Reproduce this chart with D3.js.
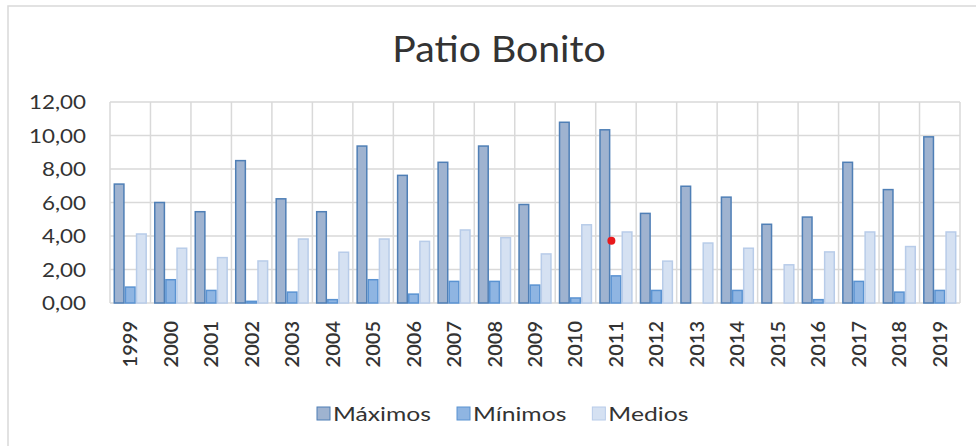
<!DOCTYPE html>
<html><head><meta charset="utf-8">
<script src="https://cdn.jsdelivr.net/npm/d3@7"></script>
<style>body{margin:0;background:#fff}svg{display:block}</style>
</head><body>
<svg id="c" width="976" height="446"></svg>
<script>
const years = ["1999","2000","2001","2002","2003","2004","2005","2006","2007","2008","2009","2010","2011","2012","2013","2014","2015","2016","2017","2018","2019"];
const seriesNames = ["Máximos","Mínimos","Medios"];
const maximos = [7.10,6.00,5.45,8.50,6.22,5.45,9.37,7.62,8.40,9.37,5.88,10.79,10.34,5.35,6.97,6.32,4.70,5.13,8.40,6.77,9.92];
const minimos = [0.95,1.39,0.75,0.10,0.65,0.20,1.39,0.53,1.29,1.29,1.07,0.30,1.62,0.75,0.00,0.75,0.00,0.20,1.29,0.65,0.75];
const medios  = [4.12,3.27,2.71,2.51,3.82,3.03,3.82,3.68,4.36,3.90,2.93,4.67,4.24,2.50,3.58,3.27,2.28,3.05,4.24,3.37,4.24];
const yTicks = [0,2,4,6,8,10,12];
const marker = [{year:"2011", value:3.72}];
const title = "Patio Bonito";

const W=976,H=446, m={l:110,r:16,t:102,b:143};
const svg=d3.select("#c");
const font="Lato, 'Open Sans', sans-serif";
const fills=["#9fb3d0","#8fb5e2","#d5e1f2"], strokes=["#4f7fb6","#5a93d2","#b8cce9"];

svg.append("path").attr("d",`M8,${H} L8,6 L${W},6`).attr("fill","none").attr("stroke","#d9d9d9").attr("stroke-width",1.5);

const x0=d3.scaleBand().domain(years).range([m.l,W-m.r]).paddingInner(0.175).paddingOuter(0.0875);
const x1=d3.scaleBand().domain(seriesNames).range([0,x0.bandwidth()]);
const y=d3.scaleLinear().domain([0,12]).range([H-m.b,m.t]);
const step=x0.step();

const g=svg.append("g");
g.selectAll("line.h").data(yTicks).join("line").attr("x1",m.l).attr("x2",W-m.r).attr("y1",d=>y(d)).attr("y2",d=>y(d)).attr("stroke","#d9d9d9").attr("stroke-width",1.5);
const bounds=d3.range(years.length+1);
g.selectAll("line.v").data(bounds).join("line").attr("x1",i=>m.l+i*step).attr("x2",i=>m.l+i*step).attr("y1",y(0)).attr("y2",y(12)).attr("stroke","#d9d9d9").attr("stroke-width",1.5);

const data=[maximos,minimos,medios];
seriesNames.forEach((s,si)=>{
  svg.append("g").selectAll("rect").data(years).join("rect")
    .attr("x",d=>x0(d)+x1(s)+0.75)
    .attr("width",x1.bandwidth()-1.5)
    .attr("y",(d,i)=>y(data[si][i]))
    .attr("height",(d,i)=>Math.max(0,y(0)-y(data[si][i])))
    .attr("fill",fills[si]).attr("stroke",strokes[si]).attr("stroke-width",1.5);
});

svg.selectAll("circle.mk").data(marker).join("circle")
  .attr("cx",d=>x0(d.year)+x1("Mínimos")+1).attr("cy",d=>y(d.value)).attr("r",4).attr("fill","#e8191c");

const fmt=d=>d3.format(".2f")(d).replace(".",",");
svg.append("g").selectAll("text").data(yTicks).join("text")
  .attr("transform",d=>`translate(86,${y(d)}) scale(1.12,1)`).attr("dy","0.35em").attr("text-anchor","end")
  .attr("font-family",font).attr("font-size",20).attr("fill","#333").text(fmt);

svg.append("g").selectAll("text").data(years).join("text")
  .attr("transform",d=>`translate(${x0(d)+x0.bandwidth()/2},321) rotate(-90)`)
  .attr("text-anchor","end").attr("dy","0.35em")
  .attr("font-family",font).attr("font-size",20).attr("font-weight",600).attr("fill","#333").text(d=>d);

svg.append("text").attr("transform","translate(499,62) scale(1.06,1)").attr("text-anchor","middle")
  .attr("font-family",font).attr("font-size",37).attr("fill","#333").text(title);

const leg=svg.append("g");
const sx=1.3;
let lx=317;
seriesNames.forEach((s,i)=>{
  const gi=leg.append("g").attr("transform",`translate(${lx},407)`);
  gi.append("rect").attr("width",13).attr("height",13).attr("fill",fills[i]).attr("stroke",strokes[i]).attr("stroke-width",1);
  const t=gi.append("text").attr("transform",`translate(16,7) scale(${sx},1)`).attr("dy","0.35em").attr("font-family",font).attr("font-size",19).attr("fill","#333").text(s);
  lx+=16+t.node().getComputedTextLength()*sx+26;
});
</script>
</body></html>
